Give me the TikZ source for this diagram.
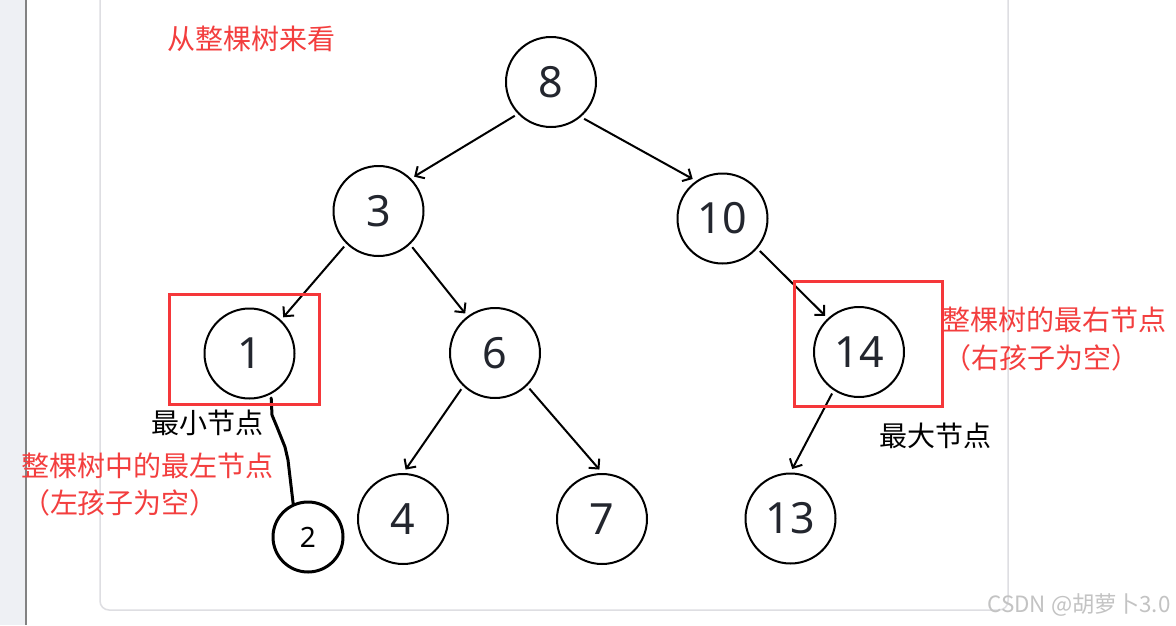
\documentclass[tikz,border=0pt]{standalone}
\usepackage{fontspec}
\setmainfont{Noto Sans}
\newfontfamily\cjk{Noto Sans CJK SC}
\usetikzlibrary{arrows.meta}
\definecolor{redtxt}{RGB}{243,62,62}
\definecolor{redbox}{RGB}{245,55,58}
\definecolor{digit}{RGB}{35,38,46}
\definecolor{framec}{RGB}{222,222,226}
\definecolor{strip}{RGB}{238,240,244}
\definecolor{stripline}{RGB}{130,130,130}
\definecolor{wm}{RGB}{195,195,195}
\begin{document}
\begin{tikzpicture}[x=1pt,y=-1pt,
  tnode/.style={circle,draw,line width=2pt,minimum size=90pt,inner sep=0pt,outer sep=4.5pt,
    font=\fontsize{43}{43}\selectfont,text=digit},
  smallnode/.style={circle,draw,line width=3pt,minimum size=70pt,inner sep=0pt,
    font=\fontsize{28}{28}\selectfont,text=black},
  arr/.style={line width=2pt,-{Straight Barb[length=7pt,width=14pt,line width=2pt]}},
  redlbl/.style={font=\cjk\fontsize{28}{28}\selectfont,text=redtxt,inner sep=0pt},
  blklbl/.style={font=\cjk\fontsize{28}{28}\selectfont,text=black,inner sep=0pt},
  hl/.style={draw=redbox,line width=3pt}]
\useasboundingbox (0,0) rectangle (1176,625);
\fill[white] (0,0) rectangle (1176,625);
% left strip
\fill[strip] (0,0) rectangle (25.5,625);
\draw[stripline,line width=1.5pt] (26,0) -- (26,625);
% frame
\draw[framec,line width=1.5pt,rounded corners=9pt] (100,-30) rectangle (1008,610);

% tree nodes
\node[tnode] (n8) at (551,82) {8};
\node[tnode] (n3) at (378.5,211) {3};
\node[tnode] (n10) at (722.5,218.5) {10};
\node[tnode] (n1) at (249.5,353.5) {1};
\node[tnode] (n6) at (495,353) {6};
\node[tnode] (n14) at (859,352) {14};
\node[tnode] (n4) at (403,519) {4};
\node[tnode] (n7) at (602,519) {7};
\node[tnode] (n13) at (790.5,518.5) {13};
\node[smallnode] (n2) at (308,537) {2};

% connectors
\draw[arr] (n8.-137.5) -- (n3.44.6);
\draw[arr] (n8.-48.4) -- (n10.127);
\draw[arr] (n3.-134.6) -- (n1.47.5);
\draw[arr] (n3.-47) -- (n6.127.6);
\draw[arr] (n10.-41.8) -- (n14.133.4);
\draw[arr] (n6.-133.4) -- (n4.87.7);
\draw[arr] (n6.-46.6) -- (n7.93.4);
\draw[arr] (n14.-123) -- (n13.88.3);
\draw[line width=3pt,line join=round,line cap=round]
  (n1.-64) -- (272,415) -- (277,427) -- (285,447) -- (288,460) -- (290,477) -- (n2.114);

% highlight boxes
\draw[hl] (169,294) rectangle (319,404);
\draw[hl] (794,281) rectangle (942,406);

% labels
\node[redlbl] (t0) at (251.5,38.5) {从整棵树来看};
\node[blklbl] (t1) at (207,422.5) {最小节点};
\node[redlbl] (t2) at (147.5,466) {整棵树中的最左节点};
\node[redlbl] (t3) at (120,503) {（左孩子为空）};
\node[redlbl] (t4) at (1054,320) {整棵树的最右节点};
\node[redlbl] (t5) at (1041,358) {（右孩子为空）};
\node[blklbl] (t6) at (935,435.5) {最大节点};
\node[font=\cjk\fontsize{22.4}{22.4}\selectfont,text=wm,inner sep=0pt] (wm) at (1079,605) {CSDN @胡萝卜3.0};
\end{tikzpicture}
\end{document}
